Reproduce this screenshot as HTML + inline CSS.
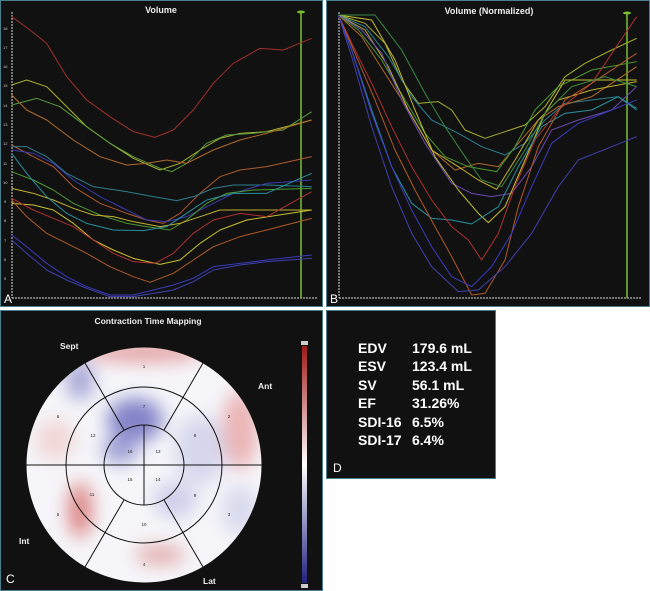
<!DOCTYPE html>
<html><head><meta charset="utf-8"><style>
body{margin:0;background:#fff;width:650px;height:591px;overflow:hidden;font-family:"Liberation Sans",sans-serif}
svg{position:absolute;left:0;top:0}
</style></head><body>
<svg width="650" height="591" viewBox="0 0 650 591">
<defs>
<linearGradient id="cb" x1="0" y1="0" x2="0" y2="1">
<stop offset="0" stop-color="#a01818"/><stop offset="0.5" stop-color="#fff"/><stop offset="1" stop-color="#202080"/></linearGradient>
<filter id="bl"><feGaussianBlur stdDeviation="9"/></filter>
<clipPath id="cc"><circle cx="144" cy="465" r="118"/></clipPath>
</defs>
<!-- panels -->
<rect x="0.5" y="0.5" width="322" height="306" fill="#111" stroke="#4a7f8f"/>
<rect x="326.5" y="0.5" width="323" height="306" fill="#111" stroke="#4a7f8f"/>
<rect x="0.5" y="310.5" width="322" height="280" fill="#111" stroke="#4a7f8f"/>
<rect x="326.5" y="310.5" width="169" height="168" fill="#111" stroke="#4a7f8f"/>

<!-- Panel A -->
<g stroke="#ddd" stroke-width="1" stroke-dasharray="2,1" fill="none">
<line x1="12" y1="12" x2="12" y2="298"/><line x1="12" y1="298" x2="318" y2="298"/>
<line x1="339" y1="12" x2="339" y2="298"/><line x1="339" y1="298" x2="642" y2="298"/>
</g>
<g fill="#ccc" font-size="4">
<text x="3" y="30">18</text><text x="3" y="49">17</text><text x="3" y="68">16</text><text x="3" y="87">15</text><text x="3" y="107">14</text><text x="3" y="126">13</text><text x="3" y="145">12</text><text x="3" y="165">11</text><text x="3" y="184">10</text><text x="4" y="203">9</text><text x="4" y="222">8</text><text x="4" y="242">7</text><text x="4" y="261">6</text><text x="4" y="280">5</text>
</g>
<text x="161" y="13" fill="#eee" font-size="9" font-weight="bold" text-anchor="middle">Volume</text>
<line x1="301" y1="12" x2="301" y2="298" stroke="#7ac030" stroke-width="1.5"/>
<ellipse cx="301" cy="12" rx="4" ry="1.5" fill="#7ac030"/>
<g transform="scale(0.33333)" fill="none" stroke-width="3" stroke-linejoin="round">
<polyline stroke="#a0302a" points="35,50 90,90 140,130 200,230 260,300 330,350 400,395 465,412 520,390 580,330 640,250 700,190 780,145 850,150 935,115"/>
<polyline stroke="#a8b030" points="35,255 80,240 140,260 200,320 260,380 330,430 400,475 480,510 540,490 600,450 660,415 720,400 800,395 935,360"/>
<polyline stroke="#5a9a3a" points="35,315 110,295 180,320 260,380 330,430 400,470 480,505 515,515 560,490 620,430 680,405 760,400 850,390 935,335"/>
<polyline stroke="#b06a2a" points="35,285 80,330 140,360 220,420 300,470 380,495 440,490 500,480 560,490 640,450 720,420 800,400 935,360"/>
<polyline stroke="#b05a2a" points="35,435 100,470 160,500 220,560 300,610 380,640 440,660 490,670 540,640 600,580 660,530 720,510 800,500 935,470"/>
<polyline stroke="#2a8090" points="35,440 80,440 140,470 200,520 280,560 380,575 460,590 530,602 580,590 640,565 700,555 800,555 935,560"/>
<polyline stroke="#3a3ab0" points="35,450 100,460 160,490 220,540 300,590 380,630 440,660 500,665 560,650 620,620 700,580 800,550 935,540"/>
<polyline stroke="#4a9a30" points="35,515 100,540 160,570 220,610 300,645 380,670 440,680 510,690 560,660 620,610 680,580 760,570 935,565"/>
<polyline stroke="#c0b030" points="35,565 100,580 160,600 220,625 280,645 340,650 400,665 480,680 540,670 600,650 660,630 740,630 935,630"/>
<polyline stroke="#2a90a0" points="35,460 80,520 140,590 200,640 260,670 340,690 430,692 500,680 560,640 620,600 700,580 800,580 935,520"/>
<polyline stroke="#c8c030" points="35,610 100,615 160,630 220,670 280,720 340,750 400,775 480,793 540,780 600,730 660,690 740,660 935,630"/>
<polyline stroke="#b03030" points="35,595 100,630 160,655 220,680 280,720 340,760 400,785 465,790 520,760 580,700 640,660 720,640 800,650 935,575"/>
<polyline stroke="#b05a2a" points="35,600 80,650 140,700 200,730 260,760 330,800 400,830 450,847 520,820 580,780 640,740 720,710 800,690 935,655"/>
<polyline stroke="#3a3ac0" points="35,705 80,740 140,790 200,830 260,860 330,885 400,885 460,870 520,855 580,835 640,800 720,790 800,780 935,765"/>
<polyline stroke="#4040b0" points="35,720 80,760 140,810 200,840 260,865 330,890 400,890 460,880 520,870 580,845 640,810 720,795 800,785 935,775"/>
</g>
<text x="4" y="303" fill="#fff" font-size="12">A</text>

<!-- Panel B -->
<text x="489" y="14" fill="#eee" font-size="9" font-weight="bold" text-anchor="middle">Volume (Normalized)</text>
<line x1="627" y1="12" x2="627" y2="298" stroke="#7ac030" stroke-width="1.5"/>
<ellipse cx="627" cy="13" rx="4" ry="1.5" fill="#7ac030"/>
<g transform="translate(325,0) scale(0.33333)" fill="none" stroke-width="3" stroke-linejoin="round">
<polyline stroke="#a8b030" points="40,45 120,70 180,130 230,240 280,310 340,305 380,330 420,390 480,415 540,395 600,375 660,320 720,230 780,190 860,150 935,115"/>
<polyline stroke="#2a8090" points="40,45 120,80 190,170 260,290 320,360 400,400 470,440 540,465 600,430 660,360 720,310 800,300 880,290 935,325"/>
<polyline stroke="#b06a2a" points="40,45 110,110 180,220 250,330 320,450 390,510 460,490 520,500 580,430 640,360 700,320 800,290 935,200"/>
<polyline stroke="#4a9a30" points="40,45 100,90 170,180 240,300 300,400 360,470 430,500 515,515 570,440 630,330 700,260 800,210 935,185"/>
<polyline stroke="#c0b030" points="40,45 120,90 190,200 250,330 320,450 400,500 460,540 515,568 570,480 640,360 700,300 800,270 935,245"/>
<polyline stroke="#6a4ab0" points="40,45 110,90 170,160 230,300 300,430 380,550 440,580 500,590 560,580 620,500 680,390 760,360 860,330 935,260"/>
<polyline stroke="#c8c030" points="40,45 140,60 210,180 270,330 330,470 400,570 460,640 490,668 540,620 600,480 660,340 720,240 800,240 935,240"/>
<polyline stroke="#2a90a0" points="40,45 80,150 140,330 200,500 260,610 320,655 380,660 440,672 520,620 580,500 650,380 720,340 800,330 880,290 935,330"/>
<polyline stroke="#b03030" points="40,45 90,150 140,250 200,380 260,500 320,600 380,680 430,720 470,780 520,700 570,560 630,420 700,330 800,250 935,50"/>
<polyline stroke="#b05a2a" points="40,45 90,160 150,300 210,450 270,570 330,680 380,770 440,885 480,880 540,780 580,620 640,440 720,300 800,250 935,160"/>
<polyline stroke="#3a3ac0" points="40,45 80,150 140,340 200,500 260,630 320,740 380,830 440,860 500,800 560,700 620,560 680,430 760,370 860,330 935,300"/>
<polyline stroke="#4040b0" points="40,45 80,170 140,380 200,560 260,700 320,800 400,875 460,870 540,800 620,700 700,560 760,480 860,440 935,410"/>
<polyline stroke="#3a8a40" points="40,45 150,45 230,150 300,280 360,380 420,470 470,540 530,560 600,450 660,340 740,260 840,230 935,260"/>
</g>
<text x="330" y="303" fill="#fff" font-size="12">B</text>

<!-- Panel C -->
<text x="148" y="324" fill="#eee" font-size="8.5" font-weight="bold" text-anchor="middle">Contraction Time Mapping</text>
<circle cx="144" cy="465" r="118" fill="#f6f6fa"/>
<g clip-path="url(#cc)" filter="url(#bl)" opacity="0.85">
<ellipse cx="144" cy="352" rx="60" ry="10" fill="#e09090"/>
<ellipse cx="240" cy="430" rx="18" ry="40" fill="#e8a8a8"/>
<ellipse cx="80" cy="510" rx="12" ry="28" fill="#d87070"/>
<ellipse cx="160" cy="555" rx="25" ry="10" fill="#e0a0a0"/>
<ellipse cx="55" cy="440" rx="20" ry="20" fill="#f0d0d0"/>
<ellipse cx="135" cy="420" rx="28" ry="22" fill="#7070c0"/>
<ellipse cx="120" cy="450" rx="18" ry="14" fill="#9090d0"/>
<ellipse cx="80" cy="380" rx="14" ry="20" fill="#9898d0"/>
<ellipse cx="200" cy="450" rx="25" ry="35" fill="#d0d0ea"/>
<ellipse cx="240" cy="510" rx="18" ry="25" fill="#d4d4ec"/>
<ellipse cx="175" cy="500" rx="22" ry="18" fill="#c8c8e8"/>
</g>
<g stroke="#111" stroke-width="1" fill="none">
<circle cx="144" cy="465" r="118"/>
<circle cx="144" cy="465" r="78"/>
<circle cx="144" cy="465" r="40"/>
<line x1="26" y1="465" x2="263" y2="465"/>
<line x1="144" y1="425" x2="144" y2="505"/>
<line x1="124" y1="430" x2="85" y2="363"/>
<line x1="164" y1="430" x2="203" y2="363"/>
<line x1="124" y1="500" x2="85" y2="567"/>
<line x1="164" y1="500" x2="203" y2="567"/>
</g>
<g fill="#222" font-size="4.5" text-anchor="middle">
<text x="144" y="368">1</text><text x="229" y="418">2</text><text x="229" y="516">3</text><text x="144" y="566">4</text><text x="58" y="516">5</text><text x="58" y="418">6</text><text x="144" y="408">7</text><text x="195" y="437">8</text><text x="195" y="497">9</text><text x="144" y="526">10</text><text x="92" y="496">11</text><text x="93" y="437">12</text><text x="158" y="453">13</text><text x="158" y="481">14</text><text x="130" y="481">15</text><text x="130" y="453">16</text>
</g>
<g fill="#eee" font-size="8.5" font-weight="bold">
<text x="60" y="349">Sept</text><text x="258" y="389">Ant</text><text x="19" y="544">Int</text><text x="203" y="584">Lat</text>
</g>
<text x="6" y="583" fill="#fff" font-size="12">C</text>
<rect x="302" y="346" width="5" height="237" fill="url(#cb)"/>
<rect x="301" y="341" width="7" height="4" fill="#ccc"/><rect x="301" y="584" width="7" height="4" fill="#ccc"/>

<!-- Panel D -->
<g fill="#fff" font-size="14" font-weight="bold">
<text x="358" y="353">EDV</text><text x="412" y="353">179.6 mL</text>
<text x="358" y="371">ESV</text><text x="412" y="371">123.4 mL</text>
<text x="358" y="390">SV</text><text x="412" y="390">56.1 mL</text>
<text x="358" y="408">EF</text><text x="412" y="408">31.26%</text>
<text x="358" y="427">SDI-16</text><text x="412" y="427">6.5%</text>
<text x="358" y="445">SDI-17</text><text x="412" y="445">6.4%</text>
</g>
<text x="333" y="472" fill="#fff" font-size="12">D</text>
</svg>
</body></html>
